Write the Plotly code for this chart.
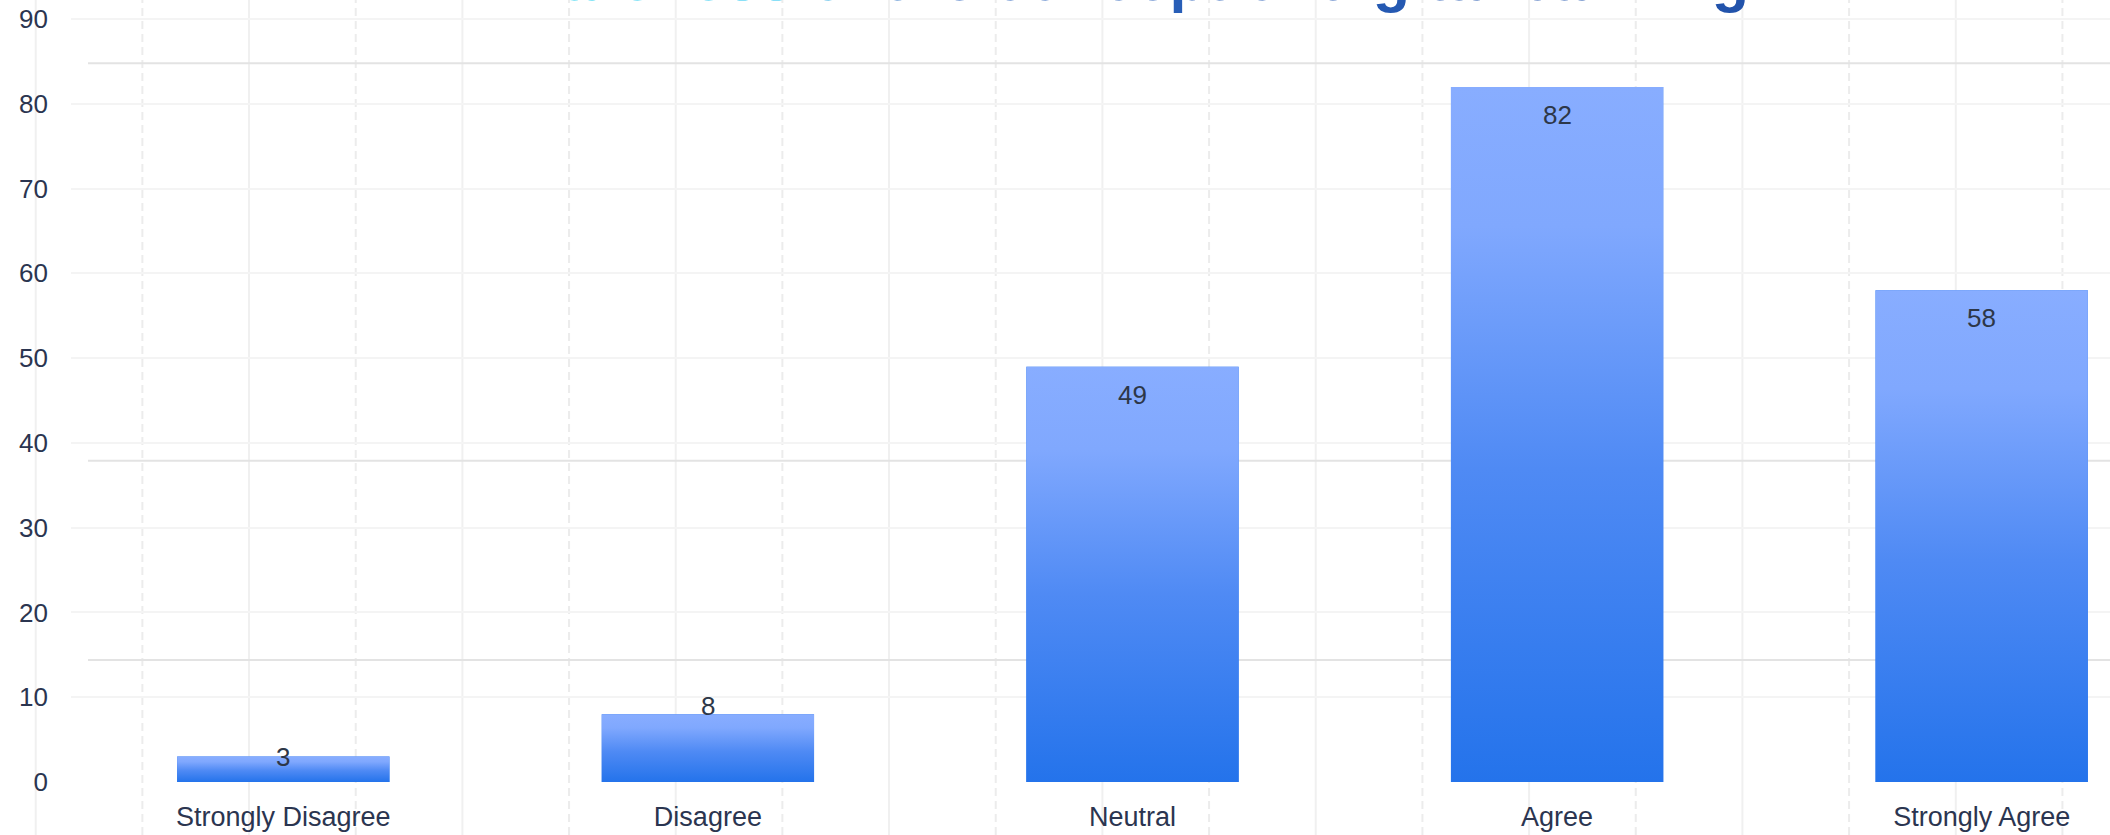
import plotly.graph_objects as go

# ---------------- data ----------------
categories = ["Strongly Disagree", "Disagree", "Neutral", "Agree", "Strongly Agree"]
counts = [3, 8, 49, 82, 58]
y_tick_values = [0, 10, 20, 30, 40, 50, 60, 70, 80, 90]
title_text = "Awareness of the concept of digital banking"

# ---------------- style / geometry ----------------
W, H = 2110, 835
ML, MR, MT, MB = 71, 0, 0, 53
PLOT_W = W - ML - MR
PLOT_H = H - MT - MB
CAT_PX = 424.6                     # pixels per category
X_RANGE = [-0.5, -0.5 + PLOT_W / CAT_PX]
Y_RANGE = [0, 92.25]
BAR_W = 0.5
FONT = "Liberation Sans, Arial, Helvetica, sans-serif"
TEXT_COL = "#2b3550"
BAR_BOTTOM = "#2473eb"
BAR_TOP = "#88adff"

x_idx = list(range(len(categories)))

fig = go.Figure()

# base bars
fig.add_trace(go.Bar(
    x=x_idx, y=counts, width=BAR_W,
    marker=dict(color=BAR_BOTTOM, line=dict(width=0)),
    hoverinfo="x+y", showlegend=False,
))

# vertical gradient overlay on every bar
for i, v in zip(x_idx, counts):
    half = BAR_W / 2
    fig.add_trace(go.Scatter(
        x=[i - half, i + half, i + half, i - half, i - half],
        y=[0, 0, v, v, 0],
        mode="lines", fill="toself",
        line=dict(width=0, color="rgba(0,0,0,0)"),
        fillgradient=dict(type="vertical",
                          colorscale=[[0, BAR_BOTTOM], [0.45, "#4f8af4"],
                                      [0.8, "#80a8fe"], [1, BAR_TOP]]),
        hoverinfo="skip", showlegend=False,
    ))

# value labels
annotations = []
for i, v in zip(x_idx, counts):
    if v >= 20:
        ys = -28
    else:
        ys = (v - 3) * 1.6
    annotations.append(dict(
        x=i, y=v, xref="x", yref="y", text=str(v), showarrow=False,
        yanchor="middle", yshift=ys,
        font=dict(family=FONT, size=26, color="#2d3748"),
    ))

# gradient title (only its lower part visible, as in the reference)
def lerp_hex(c1, c2, t):
    a = [int(c1[k:k + 2], 16) for k in (1, 3, 5)]
    b = [int(c2[k:k + 2], 16) for k in (1, 3, 5)]
    return "#" + "".join(f"{round(a[j] + (b[j] - a[j]) * t):02x}" for j in range(3))

stops = [(0.0, "#22d3ee"), (0.2, "#25c3f0"), (0.33, "#2a62bc"), (1.0, "#2253ab")]

def grad_color(t):
    for (t0, c0), (t1, c1) in zip(stops[:-1], stops[1:]):
        if t <= t1:
            return lerp_hex(c0, c1, (t - t0) / (t1 - t0))
    return stops[-1][1]

n = len(title_text)
spans = "".join(
    f"<span style='color:{grad_color(k / (n - 1))}'>{ch}</span>" for k, ch in enumerate(title_text)
)
annotations.append(dict(
    x=(1110 - ML) / PLOT_W, y=1, xref="paper", yref="paper",
    xanchor="center", yanchor="bottom", yshift=-15.5,
    text=f"<b>{spans}</b>", showarrow=False,
    font=dict(family=FONT, size=61),
))

# decorative background pattern: vertical lines (solid / dashed alternating)
shapes = []
px0, step = 35.7, 106.67
k = 0
while px0 + k * step < W:
    px = px0 + k * step
    xp = (px - ML) / PLOT_W
    shapes.append(dict(
        type="line", xref="paper", yref="paper",
        x0=xp, x1=xp, y0=-MB / PLOT_H, y1=1,
        line=dict(color="#f0f0f0" if k % 2 == 0 else "#ececec", width=2,
                  dash="solid" if k % 2 == 0 else "8px,5px"),
        layer="below",
    ))
    k += 1

# decorative darker horizontal rules
for yv in [84.8, 37.9, 14.4]:
    shapes.append(dict(
        type="line", xref="paper", yref="y",
        x0=(88 - ML) / PLOT_W, x1=1, y0=yv, y1=yv,
        line=dict(color="#e3e3e3", width=2),
        layer="below",
    ))

fig.update_layout(
    width=W, height=H,
    margin=dict(l=ML, r=MR, t=MT, b=MB, pad=0),
    paper_bgcolor="white", plot_bgcolor="white",
    font=dict(family=FONT, size=24, color=TEXT_COL),
    showlegend=False,
    bargap=0.5,
    annotations=annotations,
    shapes=shapes,
    xaxis=dict(
        range=X_RANGE, tickmode="array", tickvals=x_idx, ticktext=categories,
        showgrid=False, zeroline=False, showline=False, ticks="",
        ticklabelstandoff=16,
        tickfont=dict(family=FONT, size=27, color=TEXT_COL),
    ),
    yaxis=dict(
        range=Y_RANGE, tickmode="array", tickvals=y_tick_values,
        showgrid=True, gridcolor="#f4f4f4", gridwidth=2,
        zeroline=False, showline=False, ticks="",
        ticklabelstandoff=22,
        tickfont=dict(family=FONT, size=26, color=TEXT_COL),
    ),
)

fig.write_html(
    "out.html",
    config={"displayModeBar": False},
    post_script="document.body.style.margin='0';document.body.style.overflow='hidden';",
)
